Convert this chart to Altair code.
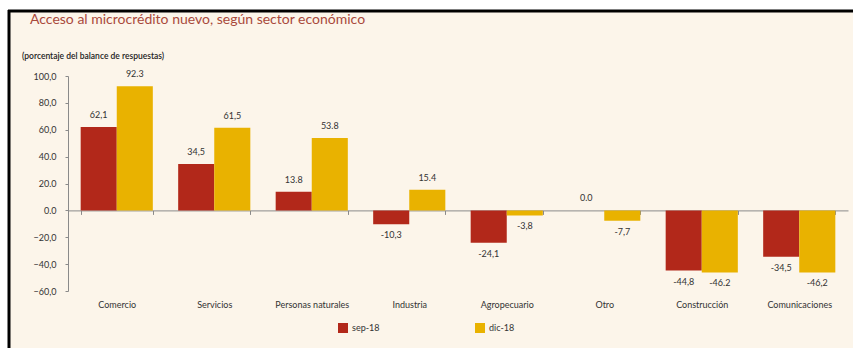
import altair as alt
import pandas as pd

categories = ["Comercio", "Servicios", "Personas naturales", "Industria",
              "Agropecuario", "Otro", "Construcción", "Comunicaciones"]
series = ["sep-18", "dic-18"]
sep_vals = [62.1, 34.5, 13.8, -10.3, -24.1, 0.0, -44.8, -34.5]
dic_vals = [92.3, 61.5, 53.8, 15.4, -3.8, -7.7, -46.2, -46.2]
sep_lbl = ["62,1", "34,5", "13.8", "-10,3", "-24,1", "0.0", "-44,8", "-34,5"]
dic_lbl = ["92.3", "61,5", "53.8", "15.4", "-3,8", "-7,7", "-46.2", "-46,2"]
y_ticks = [100, 80, 60, 40, 20, 0, -20, -40, -60]

TITLE = "Acceso al microcrédito nuevo, según sector económico"
SUBTITLE = "(porcentaje del balance de respuestas)"

rows = []
for c, v, l in zip(categories, sep_vals, sep_lbl):
    rows.append({"cat": c, "serie": "sep-18", "v": v, "lbl": l})
for c, v, l in zip(categories, dic_vals, dic_lbl):
    rows.append({"cat": c, "serie": "dic-18", "v": v, "lbl": l})
df = pd.DataFrame(rows)

W, H = 780, 215
FONT = "Lato"
BG = "#FCF5EA"

x_enc = alt.X("cat:N", sort=categories, title=None,
              scale=alt.Scale(paddingInner=0.26, paddingOuter=0.13),
              axis=alt.Axis(offset=-80.6, domain=True, domainColor="#8a8a8a",
                            ticks=True, tickBand="extent", tickSize=4,
                            tickColor="#8a8a8a", labelPadding=86,
                            labelAngle=0, labelFontSize=9, labelColor="#333333",
                            labelFont=FONT, grid=False))
y_axis = alt.Axis(values=y_ticks, domainColor="#8a8a8a", tickColor="#8a8a8a",
                  tickSize=3, labelPadding=9, labelFontSize=9,
                  labelOverlap=False, labelFlush=False,
                  labelColor="#333333", labelFont=FONT, grid=False,
                  labelExpr="(datum.value >= 0 && datum.value <= 40) ? format(datum.value, '.1f') : replace(format(datum.value, '.1f'), '.', ',')")
y_scale = alt.Scale(domain=[-60, 100], nice=False)
y_enc = alt.Y("v:Q", title=None, scale=y_scale, axis=y_axis)
xoff = alt.XOffset("serie:N", sort=series, scale=alt.Scale(paddingInner=0))
color = alt.Color("serie:N", sort=series,
                  scale=alt.Scale(domain=series, range=["#B2281A", "#E9B200"]),
                  legend=alt.Legend(title=None, orient="none", legendX=270, legendY=247,
                                    direction="horizontal", symbolType="square",
                                    symbolSize=100, symbolStrokeWidth=0,
                                    labelFontSize=9, labelFont=FONT, labelColor="#333333",
                                    columnPadding=95, labelOffset=4))

base = alt.Chart(df)
bars = base.mark_bar().encode(x=x_enc, y=y_enc, xOffset=xoff, color=color)
pos_txt = base.transform_filter("datum.v >= 0").mark_text(
    baseline="bottom", dy=-7, fontSize=9, font=FONT, color="#333333"
).encode(x=alt.X("cat:N", sort=categories), xOffset=xoff,
         y=alt.Y("v:Q", title=None, scale=y_scale, axis=y_axis), text="lbl:N")
neg_txt = base.transform_filter("datum.v < 0").mark_text(
    baseline="top", dy=7, fontSize=9, font=FONT, color="#333333"
).encode(x=alt.X("cat:N", sort=categories), xOffset=xoff,
         y=alt.Y("v:Q", title=None, scale=y_scale, axis=y_axis), text="lbl:N")

one = alt.Data(values=[{"a": 1}])
white_top = alt.Chart(one).mark_rect(color="white").encode(
    x=alt.value(-70), x2=alt.value(W + 10), y=alt.value(-80), y2=alt.value(-66))
white_left = alt.Chart(one).mark_rect(color="white").encode(
    x=alt.value(-70), x2=alt.value(-60), y=alt.value(-80), y2=alt.value(H + 60))
top_line = alt.Chart(one).mark_rule(color="black", strokeWidth=3).encode(
    x=alt.value(-60), x2=alt.value(W + 10), y=alt.value(-65))
left_line = alt.Chart(one).mark_rule(color="black", strokeWidth=3).encode(
    x=alt.value(-59), y=alt.value(-66), y2=alt.value(H + 60))
title_txt = alt.Chart(one).mark_text(
    align="left", baseline="alphabetic", fontSize=14, font=FONT, color="#A9493C"
).encode(x=alt.value(-38), y=alt.value(-52), text=alt.value(TITLE))
sub_txt = alt.Chart(one).mark_text(
    align="left", baseline="alphabetic", fontSize=8.5, font=FONT, color="#222222",
    fontWeight=600
).encode(x=alt.value(-46), y=alt.value(-17), text=alt.value(SUBTITLE))

chart = alt.layer(white_top, white_left, top_line, left_line, bars, pos_txt, neg_txt,
                  title_txt, sub_txt).properties(
    width=W, height=H, background=BG,
    padding={"left": 68, "top": 76, "right": 5, "bottom": 57},
    autosize=alt.AutoSizeParams(type="none"),
).configure_view(stroke=None).configure_axisY(labelOverlap=False)

chart.save("out.html", embed_options={"renderer": "svg", "actions": False})
